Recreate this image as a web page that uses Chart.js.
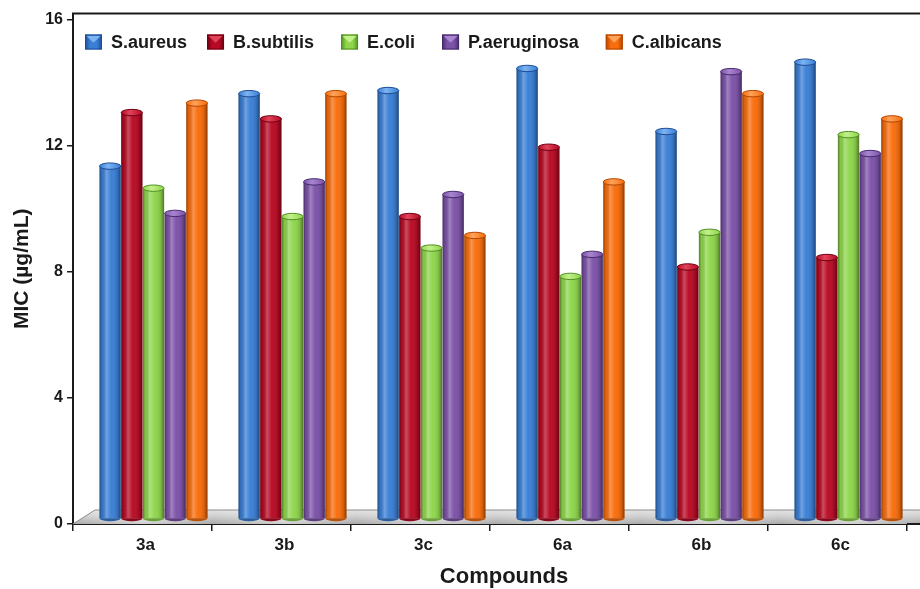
<!DOCTYPE html>
<html>
<head>
<meta charset="utf-8">
<script src="https://cdn.jsdelivr.net/npm/chart.js@4.4.1/dist/chart.umd.min.js"></script>
<style>
  html, body { margin: 0; padding: 0; background: #ffffff; }
  #wrap { width: 920px; height: 589px; }
</style>
</head>
<body>
<div id="wrap"><canvas id="mic" width="920" height="589"></canvas></div>
<script>
// MIC values (µg/mL) per compound for each test organism
const compounds   = ['3a', '3b', '3c', '6a', '6b', '6c'];
const sAureus     = [11.2, 13.5, 13.6, 14.3, 12.3, 14.5];
const bSubtilis   = [12.9, 12.7, 9.6, 11.8, 8.0, 8.3];
const eColi       = [10.5, 9.6, 8.6, 7.7, 9.1, 12.2];
const pAeruginosa = [9.7, 10.7, 10.3, 8.4, 14.2, 11.6];
const cAlbicans   = [13.2, 13.5, 9.0, 10.7, 13.5, 12.7];
const organisms   = ['S.aureus', 'B.subtilis', 'E.coli', 'P.aeruginosa', 'C.albicans'];
const yTicks      = [0, 4, 8, 12, 16];

const seriesValues = [sAureus, bSubtilis, eColi, pAeruginosa, cAlbicans];

const FONT = 'Liberation Sans, Arial, sans-serif';
const INK = '#1a1a1a';

const palette = [
  { base: '#3a7fd6', light: '#7db4f2', dark: '#1d4c94' },
  { base: '#b80a24', light: '#e0435a', dark: '#6e0012' },
  { base: '#8fd64c', light: '#c2f08a', dark: '#4f8f22' },
  { base: '#7c52a8', light: '#a886d0', dark: '#452a6c' },
  { base: '#f96d0c', light: '#ffa25a', dark: '#b34600' }
];

// offset of the bar row behind the front axis line (fake depth)
const depth = { dx: 11, dy: -5 };

const cylinders = {
  id: 'cylinders',
  beforeDatasetsDraw(chart) {
    const { ctx, chartArea: a } = chart;
    // floor slab under the bars
    const yFront = a.bottom, yBack = a.bottom - 14;
    ctx.save();
    ctx.beginPath();
    ctx.moveTo(a.left, yFront);
    ctx.lineTo(a.left + 22, yBack);
    ctx.lineTo(chart.width, yBack);
    ctx.lineTo(chart.width, yFront);
    ctx.closePath();
    const g = ctx.createLinearGradient(0, yBack, 0, yFront);
    g.addColorStop(0, '#e2e2e2');
    g.addColorStop(0.45, '#cfcfcf');
    g.addColorStop(1, '#a9a9a9');
    ctx.fillStyle = g;
    ctx.fill();
    // soft sheen across the slab
    const s = ctx.createLinearGradient(a.left, 0, chart.width, 0);
    for (let i = 0; i <= 12; i++) {
      s.addColorStop(i / 12, i % 2 ? 'rgba(255,255,255,0.45)' : 'rgba(255,255,255,0)');
    }
    ctx.fillStyle = s;
    ctx.fill();
    ctx.strokeStyle = '#8a8a8a';
    ctx.lineWidth = 1;
    ctx.beginPath();
    ctx.moveTo(a.left, yFront);
    ctx.lineTo(a.left + 22, yBack);
    ctx.lineTo(chart.width, yBack);
    ctx.stroke();
    ctx.restore();

    ctx.save();
    ctx.translate(depth.dx, depth.dy);
  },
  afterDatasetDraw(chart, args) {
    const ctx = chart.ctx;
    const c = palette[args.index];
    args.meta.data.forEach(el => {
      const { x, y, base, width } = el.getProps(['x', 'y', 'base', 'width'], true);
      const l = x - width / 2, r = x + width / 2;
      // round-body shading
      const g = ctx.createLinearGradient(l, 0, r, 0);
      g.addColorStop(0, 'rgba(0,0,0,0.40)');
      g.addColorStop(0.12, 'rgba(0,0,0,0.08)');
      g.addColorStop(0.32, 'rgba(255,255,255,0.28)');
      g.addColorStop(0.55, 'rgba(255,255,255,0.02)');
      g.addColorStop(0.85, 'rgba(0,0,0,0.14)');
      g.addColorStop(1, 'rgba(0,0,0,0.45)');
      ctx.fillStyle = g;
      ctx.fillRect(l, y, width, base - y);
      // rounded foot
      ctx.beginPath();
      ctx.ellipse(x, base, width / 2, 3, 0, 0, Math.PI);
      ctx.fillStyle = c.base;
      ctx.fill();
      ctx.fillStyle = 'rgba(0,0,0,0.25)';
      ctx.fill();
      // top cap
      ctx.beginPath();
      ctx.ellipse(x, y, width / 2, 3.2, 0, 0, Math.PI * 2);
      const cg = ctx.createLinearGradient(l, 0, r, 0);
      cg.addColorStop(0, c.base);
      cg.addColorStop(0.4, c.light);
      cg.addColorStop(1, c.base);
      ctx.fillStyle = cg;
      ctx.fill();
      ctx.strokeStyle = c.dark;
      ctx.lineWidth = 1;
      ctx.stroke();
    });
  },
  afterDatasetsDraw(chart) {
    chart.ctx.restore();
  }
};

function legendSwatch(ctx, x, y, w, h, c) {
  const g = ctx.createLinearGradient(x, 0, x + w, 0);
  g.addColorStop(0, c.dark);
  g.addColorStop(0.3, c.base);
  g.addColorStop(0.7, c.base);
  g.addColorStop(1, c.dark);
  ctx.fillStyle = g;
  ctx.fillRect(x, y, w, h);
  ctx.beginPath();
  ctx.moveTo(x + 1.5, y + 1.5);
  ctx.lineTo(x + w / 2, y + h * 0.55);
  ctx.lineTo(x + w - 1.5, y + 1.5);
  ctx.closePath();
  ctx.fillStyle = c.light;
  ctx.fill();
  ctx.strokeStyle = c.dark;
  ctx.lineWidth = 1;
  ctx.strokeRect(x + 0.5, y + 0.5, w - 1, h - 1);
}

const frame = {
  id: 'frame',
  afterDraw(chart) {
    const { ctx, chartArea: a } = chart;
    ctx.save();
    ctx.strokeStyle = INK;
    ctx.lineWidth = 2;
    // top rule and the stretch of the base line past the last category
    ctx.beginPath();
    ctx.moveTo(a.left - 1, a.top);
    ctx.lineTo(chart.width, a.top);
    ctx.moveTo(a.right, a.bottom);
    ctx.lineTo(chart.width, a.bottom);
    ctx.stroke();

    // legend row inside the plot
    ctx.font = 'bold 18px ' + FONT;
    ctx.textBaseline = 'middle';
    ctx.textAlign = 'left';
    let x = a.left + 12;
    const yMid = 42;
    chart.data.datasets.forEach((ds, i) => {
      legendSwatch(ctx, x, yMid - 7.5, 17, 15, palette[i]);
      ctx.fillStyle = INK;
      ctx.fillText(ds.label, x + 26, yMid + 1);
      x += 26 + ctx.measureText(ds.label).width + (i === 0 ? 20 : 27);
    });

    // x axis title
    ctx.font = 'bold 22px ' + FONT;
    ctx.textAlign = 'center';
    ctx.fillStyle = INK;
    ctx.fillText('Compounds', 504, 577);
    ctx.restore();
  }
};

new Chart(document.getElementById('mic'), {
  type: 'bar',
  data: {
    labels: compounds,
    datasets: seriesValues.map((values, i) => ({
      label: organisms[i],
      data: values,
      backgroundColor: palette[i].base,
      borderWidth: 0,
      categoryPercentage: 0.78,
      barPercentage: 0.98,
      clip: false
    }))
  },
  options: {
    responsive: false,
    animation: false,
    events: [],
    layout: { padding: { top: 13, right: 13, left: 0, bottom: 0 } },
    plugins: { legend: { display: false }, tooltip: { enabled: false } },
    scales: {
      x: {
        grid: { drawOnChartArea: false, offset: true, tickLength: 7, color: INK, lineWidth: 1.5 },
        border: { color: INK, width: 2 },
        ticks: { font: { family: FONT, size: 17, weight: 'bold' }, color: INK, padding: 4, labelOffset: 3, maxRotation: 0 },
        afterFit(scale) { scale.height = 65; }
      },
      y: {
        min: 0,
        max: 16.2,
        afterBuildTicks(scale) { scale.ticks = yTicks.map(v => ({ value: v })); },
        grid: { drawOnChartArea: false, tickLength: 6, color: INK, lineWidth: 1.5 },
        border: { color: INK, width: 2 },
        ticks: { font: { family: FONT, size: 16, weight: 'bold' }, color: INK, padding: 4 },
        title: { display: true, text: 'MIC (µg/mL)', color: INK, font: { family: FONT, size: 21, weight: 'bold' }, padding: { top: 10, bottom: 0 } },
        afterFit(scale) { scale.width = 73; }
      }
    }
  },
  plugins: [cylinders, frame]
});
</script>
</body>
</html>
